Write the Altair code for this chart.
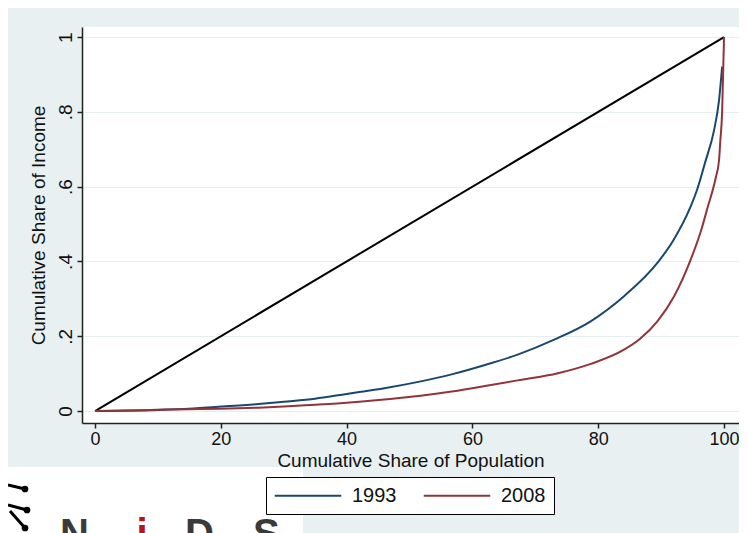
import altair as alt
import pandas as pd

# ---- data (Lorenz curves) ----
pop_1993 = [0, 5, 10, 13, 20, 26, 30, 35, 39, 42, 46, 51.4, 56.7, 62, 67.2, 73,
            78.8, 84.1, 89.4, 92.0, 94.7, 95.7, 97.0, 98.4, 99.2, 99.7]
inc_1993 = [0, 0.001, 0.003, 0.005, 0.012, 0.019, 0.025, 0.033, 0.043, 0.051, 0.061,
            0.078, 0.098, 0.123, 0.151, 0.191, 0.240, 0.307, 0.396, 0.458, 0.547,
            0.591, 0.665, 0.750, 0.830, 0.921]

pop_2008 = [0, 8.7, 15, 20, 26, 30, 35, 39, 42, 46, 51.4, 56.7, 62, 67.2, 73.6, 78.8,
            84.1, 86.7, 89.4, 92.0, 94.7, 96.3, 97.4, 98.7, 99.2, 99.4, 99.7, 100]
inc_2008 = [0, 0.003, 0.005, 0.006, 0.009, 0.012, 0.017, 0.021, 0.025, 0.031, 0.040,
            0.052, 0.067, 0.082, 0.101, 0.126, 0.164, 0.194, 0.240, 0.305, 0.405,
            0.480, 0.545, 0.625, 0.670, 0.720, 0.800, 1.0]

equal_pop = [0, 100]
equal_inc = [0, 1]

years = ["1993", "2008"]
year_colors = ["#1a476f", "#90353b"]
x_ticks = [0, 20, 40, 60, 80, 100]
y_ticks = [0, 0.2, 0.4, 0.6, 0.8, 1]

FONT = "Liberation Sans, Arial, sans-serif"
BG = "#e9f0f2"

curves = pd.DataFrame({
    "pop": pop_1993 + pop_2008,
    "inc": inc_1993 + inc_2008,
    "year": [years[0]] * len(pop_1993) + [years[1]] * len(pop_2008),
})
equal = pd.DataFrame({"pop": equal_pop, "inc": equal_inc})

xscale = alt.Scale(domain=[-2.07, 102.38], nice=False, zero=False)
yscale = alt.Scale(domain=[-0.032, 1.027], nice=False, zero=False)

xaxis = alt.Axis(values=x_ticks, title="Cumulative Share of Population", grid=False,
                 tickSize=5, labelPadding=2, titlePadding=3, labelFontSize=18,
                 titleFontSize=19, labelFlush=False)
yaxis = alt.Axis(values=y_ticks, title="Cumulative Share of Income", grid=True,
                 gridColor="#e6eef0", tickSize=5, labelAngle=270, labelAlign="center",
                 labelBaseline="bottom", labelPadding=2, labelFontSize=19,
                 titleFontSize=19, titlePadding=8,
                 labelExpr="datum.value == 0 ? '0' : datum.value == 1 ? '1' : replace(format(datum.value, '.1f'), '0.', '.')")

equal_line = alt.Chart(equal).mark_line(color="black", strokeWidth=2, clip=True).encode(
    x=alt.X("pop:Q", scale=xscale, axis=xaxis),
    y=alt.Y("inc:Q", scale=yscale, axis=yaxis),
)

lorenz = alt.Chart(curves).mark_line(strokeWidth=2, interpolate="monotone", clip=True).encode(
    x=alt.X("pop:Q", scale=xscale),
    y=alt.Y("inc:Q", scale=yscale),
    color=alt.Color("year:N", scale=alt.Scale(domain=years, range=year_colors),
                    legend=alt.Legend(title=None, orient="none", legendX=184, legendY=450,
                                      direction="horizontal",
                                      symbolType="M-3.5,0L3.5,0",
                                      symbolSize=361, symbolOffset=23.5,
                                      symbolStrokeWidth=2, symbolFillColor="transparent",
                                      labelFontSize=20, labelOffset=33.5, columnPadding=22,
                                      padding=8, fillColor="white", strokeColor="#000")),
)

# ---- logo patch (decoration, bottom-left) ----
one = pd.DataFrame({"a": [0]})
logo_bg = alt.Chart(one).mark_rect(color="white").encode(
    x=alt.value(-74), x2=alt.value(221), y=alt.value(440), y2=alt.value(530))


def letter(ch, xpos, color, align="left"):
    return alt.Chart(one).mark_text(fontSize=40, fontWeight="bold", color=color,
                                    align=align, baseline="alphabetic",
                                    font="Liberation Sans").encode(
        x=alt.value(xpos), y=alt.value(520), text=alt.value(ch))


logo_N = letter("N", -22, "#3a3a3a")
logo_i = letter("i", 60, "#b0161e", "center")
logo_D = letter("D", 103, "#3a3a3a")
logo_S = letter("S", 171, "#3a3a3a")

icon_l1 = alt.Chart(one).mark_rule(color="black", strokeWidth=3).encode(
    x=alt.value(-74), x2=alt.value(-57), y=alt.value(458), y2=alt.value(462))
icon_l2 = alt.Chart(one).mark_rule(color="black", strokeWidth=3).encode(
    x=alt.value(-74), x2=alt.value(-55), y=alt.value(478), y2=alt.value(483))
icon_l3 = alt.Chart(one).mark_rule(color="black", strokeWidth=3).encode(
    x=alt.value(-72), x2=alt.value(-57), y=alt.value(484), y2=alt.value(501))
icon_d1 = alt.Chart(one).mark_point(filled=True, color="black", size=45, opacity=1).encode(
    x=alt.value(-57), y=alt.value(462))
icon_d2 = alt.Chart(one).mark_point(filled=True, color="black", size=45, opacity=1).encode(
    x=alt.value(-55), y=alt.value(483))
icon_d3 = alt.Chart(one).mark_point(filled=True, color="black", size=45, opacity=1).encode(
    x=alt.value(-57), y=alt.value(501))

chart = alt.layer(
    equal_line, lorenz, logo_bg, logo_N, logo_i, logo_D, logo_S,
    icon_l1, icon_l2, icon_l3, icon_d1, icon_d2, icon_d3,
).properties(
    width=657, height=396,
    autosize=alt.AutoSizeParams(type="none"),
    padding={"left": 74, "top": 19, "right": 0, "bottom": 110},
    background=BG,
).configure(
    font=FONT,
).configure_view(
    fill="white", strokeWidth=0,
).configure_axis(
    domainColor="#222", tickColor="#222", labelColor="#111", titleColor="#111",
    titleFontWeight="normal", domainWidth=1.5, tickWidth=1.5,
    labelFont=FONT, titleFont=FONT,
).configure_legend(
    labelFont=FONT, labelColor="#111",
)

chart.save("out.html", embed_options={"renderer": "svg", "actions": False})
